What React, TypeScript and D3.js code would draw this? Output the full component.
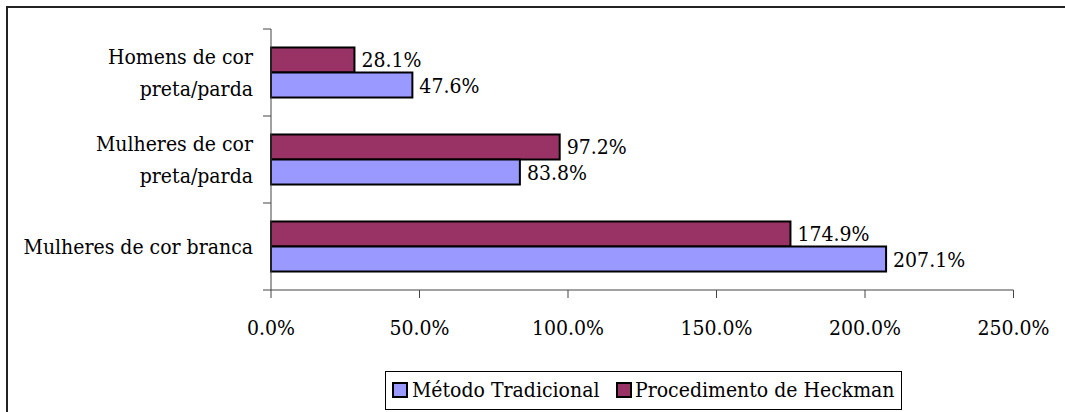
import React from "react";
import * as d3 from "d3";

const categories = [
  ["Homens de cor", "preta/parda"],
  ["Mulheres de cor", "preta/parda"],
  ["Mulheres de cor branca"],
];
const seriesNames = ["Procedimento de Heckman", "Método Tradicional"];
const heckman = [28.1, 97.2, 174.9];
const tradicional = [47.6, 83.8, 207.1];
const xTicks = [0, 50, 100, 150, 200, 250];

const W = 1065;
const H = 412;
const FONT = '"DejaVu Serif Condensed", "DejaVu Serif", serif';
const FS = 21;
const COL_TRAD = "#9999FF";
const COL_HECK = "#993366";

export default function App() {
  const x = d3.scaleLinear().domain([0, 250]).range([271, 1013.5]);
  const catKeys = categories.map((c) => c.join(" "));
  const y = d3.scaleBand<string>().domain(catKeys).range([29, 290]).padding(0);
  const bw = y.bandwidth();
  const groupH = bw * 0.575;
  const inner = d3
    .scaleBand<string>()
    .domain(seriesNames)
    .range([0, groupH])
    .padding(0);
  const values: Record<string, number[]> = {
    "Procedimento de Heckman": heckman,
    "Método Tradicional": tradicional,
  };
  const colors: Record<string, string> = {
    "Procedimento de Heckman": COL_HECK,
    "Método Tradicional": COL_TRAD,
  };
  const fmt = (v: number) => v.toFixed(1) + "%";
  const x0 = x(0);
  const axisBottom = 290;
  const boundaries = [29, ...catKeys.map((k) => (y(k) as number) + bw)];

  return (
    <svg
      width={W}
      height={H}
      style={{
        position: "absolute",
        left: 0,
        top: 0,
        background: "#fff",
        fontFamily: FONT,
        fontStretch: "condensed",
      }}
    >
      <rect x={0} y={0} width={W} height={H} fill="#fff" />
      <rect x={7} y={7} width={W + 20} height={H + 20} fill="none" stroke="#222" strokeWidth={2} />

      {catKeys.map((k, i) => {
        const top = (y(k) as number) + (bw - groupH) / 2;
        return (
          <g key={k}>
            {seriesNames.map((s) => {
              const v = values[s][i];
              const yy = top + (inner(s) as number);
              return (
                <g key={s}>
                  <rect
                    x={x0}
                    y={yy}
                    width={x(v) - x0}
                    height={inner.bandwidth()}
                    fill={colors[s]}
                    stroke="#000"
                    strokeWidth={2}
                  />
                  <text
                    x={x(v) + 7}
                    y={yy + inner.bandwidth() / 2 + 7.5}
                    fontSize={FS}
                    fill="#000"
                  >
                    {fmt(v)}
                  </text>
                </g>
              );
            })}
          </g>
        );
      })}

      <line x1={x0} x2={x0} y1={29} y2={axisBottom} stroke="#444" strokeWidth={1} />
      {boundaries.map((b, i) => (
        <line key={i} x1={x0 - 8} x2={x0} y1={b} y2={b} stroke="#444" strokeWidth={1} />
      ))}

      <line x1={x0} x2={x(250)} y1={axisBottom} y2={axisBottom} stroke="#444" strokeWidth={1} />
      {xTicks.map((t) => (
        <g key={t}>
          <line x1={x(t)} x2={x(t)} y1={axisBottom} y2={axisBottom + 8} stroke="#444" strokeWidth={1} />
          <text x={x(t)} y={335} textAnchor="middle" fontSize={FS} fill="#000">
            {fmt(t)}
          </text>
        </g>
      ))}

      {categories.map((lines, i) => {
        const c = (y(catKeys[i]) as number) + bw / 2;
        return (
          <text key={i} textAnchor="end" fontSize={FS} fill="#000">
            {lines.map((ln, j) => (
              <tspan key={j} x={253} y={c + 7.5 + (j - (lines.length - 1) / 2) * 32}>
                {ln}
              </tspan>
            ))}
          </text>
        );
      })}

      <rect x={385.5} y={371.5} width={516} height={38} fill="#fff" stroke="#000" strokeWidth={1} />
      <rect x={393} y={383} width={14} height={14} fill={COL_TRAD} stroke="#000" strokeWidth={2} />
      <text x={412} y={397} fontSize={FS} fill="#000">Método Tradicional</text>
      <rect x={617} y={383} width={14} height={14} fill={COL_HECK} stroke="#000" strokeWidth={2} />
      <text x={635} y={397} fontSize={FS} fill="#000">Procedimento de Heckman</text>
    </svg>
  );
}
